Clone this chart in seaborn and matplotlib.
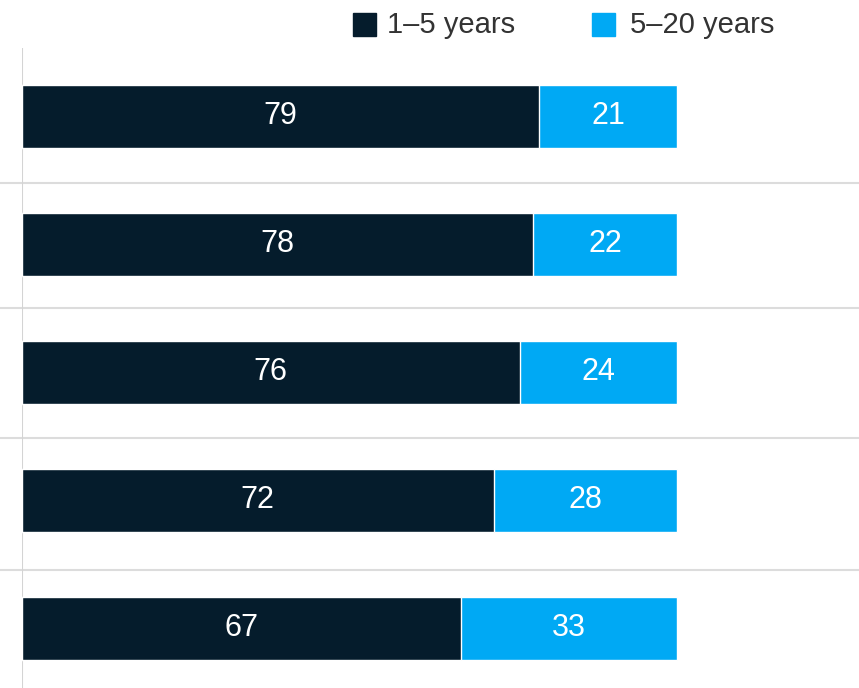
import matplotlib
matplotlib.use("Agg")
import matplotlib.pyplot as plt
import matplotlib.transforms as mtransforms
import seaborn as sns
import pandas as pd

# Share of respondents by time horizon, one row per group
rows = ["Row 1", "Row 2", "Row 3", "Row 4", "Row 5"]
short_term = [79, 78, 76, 72, 67]
long_term = [21, 22, 24, 28, 33]
series_names = ["1–5 years", "5–20 years"]

DARK = "#051c2c"
LIGHT = "#00a9f4"
GRID = "#dcdcdc"

df = pd.DataFrame({"row": rows, "short": short_term, "long": long_term})
df["total"] = df["short"] + df["long"]

sns.set_theme(style="white")
plt.rcParams["font.family"] = ["Liberation Sans", "DejaVu Sans"]

W, H = 859, 688
fig = plt.figure(figsize=(W / 100, H / 100), dpi=100)
left_px, top_px, right_px, bottom_px = 22, 48, 859, 688
ax = fig.add_axes([left_px / W, 1 - bottom_px / H,
                   (right_px - left_px) / W, (bottom_px - top_px) / H])

# stacked horizontal bars: full total in light blue, short-term segment on top
sns.barplot(data=df, x="total", y="row", orient="h", color=LIGHT,
            width=0.49, saturation=1, ax=ax, edgecolor="white", linewidth=1)
sns.barplot(data=df, x="short", y="row", orient="h", color=DARK,
            width=0.49, saturation=1, ax=ax, edgecolor="white", linewidth=1)

ax.set_xlim(0, 127.8)
ax.set_ylim(4.465, -0.535)

# value labels centred in each segment
for i, (s, l) in enumerate(zip(short_term, long_term)):
    ax.text(s / 2, i, f"{s}", color="white", ha="center", va="center",
            fontsize=22)
    ax.text(s + l / 2, i, f"{l}", color="white", ha="center", va="center",
            fontsize=22)

# separators between rows, running across the full figure width
trans = mtransforms.blended_transform_factory(fig.transFigure, ax.transData)
for yb in [0.52, 1.50, 2.51, 3.54]:
    ax.plot([0, 1], [yb, yb], transform=trans, color=GRID,
            lw=1.5, clip_on=False, zorder=0)

ax.axvline(0, color="#d4d4d4", lw=1.5, zorder=0)

for sp in ax.spines.values():
    sp.set_visible(False)
ax.set_xticks([])
ax.set_yticks([])
ax.set_xlabel("")
ax.set_ylabel("")

# legend at top right: colour squares with labels
legend_items = [(353, 387, DARK, series_names[0]),
                (592, 630, LIGHT, series_names[1])]
for sq_x, tx_x, col, name in legend_items:
    fig.patches.append(plt.Rectangle((sq_x / W, 1 - 36 / H), 23 / W, 23 / H,
                                     transform=fig.transFigure, color=col))
    fig.text(tx_x / W, 1 - 25 / H, name, ha="left", va="center",
             fontsize=21, color="#333333")

fig.savefig("out.png", dpi=100)
